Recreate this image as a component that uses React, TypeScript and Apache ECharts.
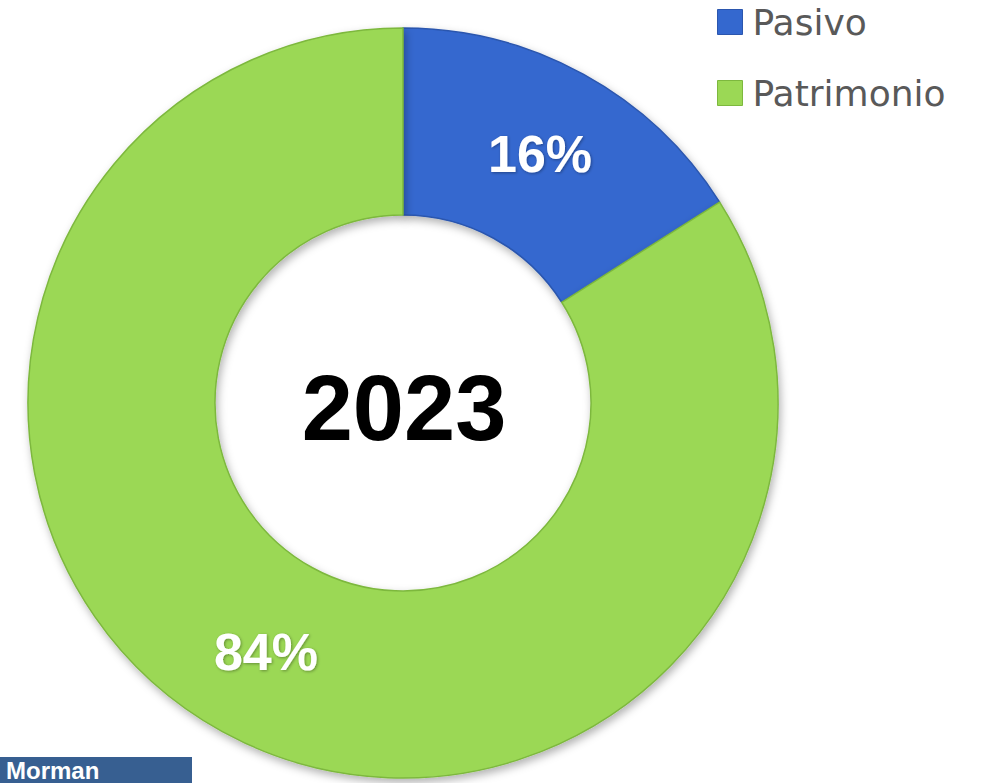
import React, { useEffect, useRef } from "react";
import * as echarts from "echarts";

const categories = ["Pasivo", "Patrimonio"];
const shares = [16, 84];
const sliceColors = ["#3468CF", "#9BD855"];
const sliceBorders = ["#2B56AE", "#7DB83E"];
const centerLabel = "2023";
const logoText = "Morman";

export default function App() {
  const ref = useRef<HTMLDivElement>(null);

  useEffect(() => {
    if (!ref.current) return;
    const chart = echarts.init(ref.current, null, { renderer: "svg" });
    const data = categories.map((name, i) => ({
      name,
      value: shares[i],
      itemStyle: {
        color: sliceColors[i],
        borderColor: sliceBorders[i],
        borderWidth: 1.5,
      },
    }));
    chart.setOption({
      animation: false,
      backgroundColor: "#ffffff",
      legend: {
        orient: "vertical",
        left: 717,
        top: 0,
        padding: 0,
        icon: "rect",
        itemWidth: 25,
        itemHeight: 25,
        itemGap: 27,
        data: categories,
        itemStyle: { borderWidth: 1 },
        textStyle: {
          fontFamily: "DejaVu Sans",
          fontSize: 36,
          lineHeight: 44,
          color: "#595959",
          padding: [0, 0, 0, 5],
        },
      },
      graphic: [
        {
          type: "text",
          x: 404,
          y: 408,
          style: {
            text: centerLabel,
            fontFamily: "Liberation Sans",
            fontWeight: "bold",
            fontSize: 92,
            fill: "#000000",
            textAlign: "center",
            textVerticalAlign: "middle",
          },
        },
        {
          type: "rect",
          shape: { x: 0, y: 757, width: 192, height: 26 },
          style: { fill: "#375F91" },
        },
        {
          type: "text",
          x: 6,
          y: 770,
          style: {
            text: logoText,
            fontFamily: "Liberation Sans",
            fontWeight: "bold",
            fontSize: 24,
            fill: "#ffffff",
            textVerticalAlign: "middle",
          },
        },
      ],
      series: [
        {
          type: "pie",
          center: [403, 403],
          radius: [188, 375],
          startAngle: 90,
          clockwise: true,
          avoidLabelOverlap: false,
          label: {
            show: true,
            position: "inside",
            formatter: "{c}%",
            color: "#ffffff",
            fontFamily: "Liberation Sans",
            fontWeight: "bold",
            fontSize: 52,
            textShadowColor: "rgba(0,0,0,0.35)",
            textShadowBlur: 3,
            textShadowOffsetX: 1,
            textShadowOffsetY: 1,
          },
          labelLine: { show: false },
          emphasis: { disabled: true },
          itemStyle: {
            shadowBlur: 8,
            shadowOffsetX: 2,
            shadowOffsetY: 4,
            shadowColor: "rgba(0,0,0,0.3)",
          },
          data,
        },
      ],
    });
    return () => chart.dispose();
  }, []);

  return (
    <div
      ref={ref}
      style={{ position: "fixed", left: 0, top: 0, width: 982, height: 783 }}
    />
  );
}
